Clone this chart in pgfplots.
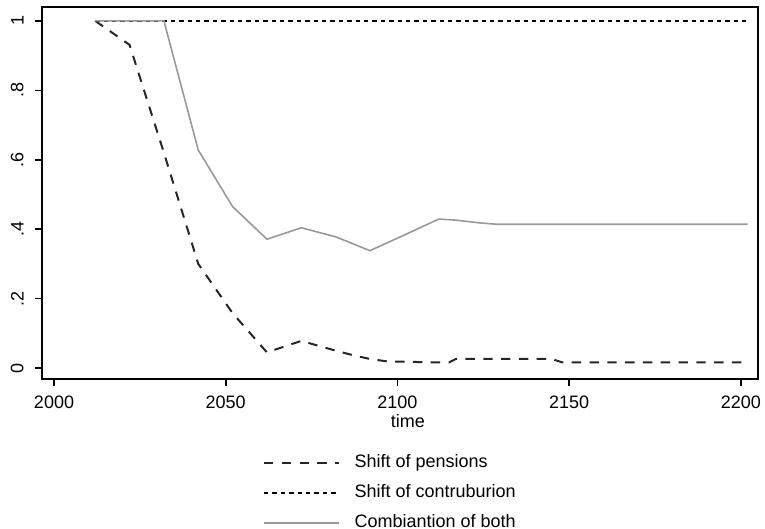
\documentclass[border=0pt]{standalone}
\usepackage{fontspec}
\setmainfont{Liberation Sans}
\usepackage{pgfplots}
\pgfplotsset{compat=1.18}
\begin{document}
\begin{tikzpicture}
\begin{axis}[
  at={(0pt,0pt)}, anchor=south west,
  scale only axis, width=358pt, height=186pt,
  xmin=1996.5, xmax=2205, ymin=-0.0317, ymax=1.040,
  xtick={2000,2050,2100,2150,2200},
  xticklabels={2000,2050,2100,2150,2200},
  ytick={0,0.2,0.4,0.6,0.8,1},
  yticklabels={0,.2,.4,.6,.8,1},
  /pgf/number format/assume math mode=true,
  tick align=outside, tick pos=left,
  major tick length=3.5pt,
  tick style={black, line width=0.8pt},
  axis line style={line width=1.1pt},
  ticklabel style={font=\fontsize{9}{11}\selectfont, inner sep=0pt},
  yticklabel style={rotate=90, anchor=south},
  xticklabel style={anchor=north},
  xticklabel shift=5pt,
  yticklabel shift=5.5pt,
  xlabel={time},
  xlabel style={at={(axis description cs:0.511,0)}, anchor=north, yshift=-17.5pt, inner sep=0pt, font=\fontsize{9}{11}\selectfont},
  legend style={at={(axis description cs:0.308,-0.2)}, anchor=north west, draw=none, fill=none, inner sep=0pt, row sep=6pt,
    nodes={inner sep=0pt, text height=7pt, text depth=2pt, font=\fontsize{9}{11}\selectfont},
    /tikz/every odd column/.append style={column sep=7.5pt}},
  legend cell align=left,
  legend image code/.code={\draw[#1] (0pt,0pt) -- (37.3pt,0pt);},
]
% shift of pensions
\addplot[black!85, line width=1pt, dash pattern=on 4.7pt off 4.2pt] coordinates {
  (2012,1) (2022,0.931) (2032,0.62) (2042,0.30) (2052,0.158) (2062,0.045)
  (2072,0.078) (2077,0.064) (2082,0.05) (2087,0.037) (2092,0.026) (2097,0.019)
  (2102,0.018) (2107,0.017) (2112,0.016) (2115,0.016) (2117,0.026) (2122,0.026)
  (2132,0.026) (2142,0.026) (2145,0.026) (2148,0.016) (2202,0.016)
};
\addlegendentry{Shift of pensions}
% shift of contribution
\addplot[black, line width=0.8pt, dash pattern=on 2.2pt off 2pt] coordinates {
  (2012,1) (2202,1)
};
\addlegendentry{Shift of contruburion}
% combination
\addplot[black!40, line width=0.8pt] coordinates {
  (2012,1) (2022,1) (2032,1) (2042,0.628) (2052,0.465) (2062,0.371)
  (2072,0.404) (2082,0.378) (2092,0.338) (2102,0.383) (2112,0.429)
  (2117,0.426) (2124,0.418) (2129,0.414) (2202,0.414)
};
\addlegendentry{Combiantion of both}
\end{axis}
\pgfresetboundingbox
\path (-21pt,-75pt) rectangle (361.5pt,189.5pt);
\end{tikzpicture}
\end{document}
